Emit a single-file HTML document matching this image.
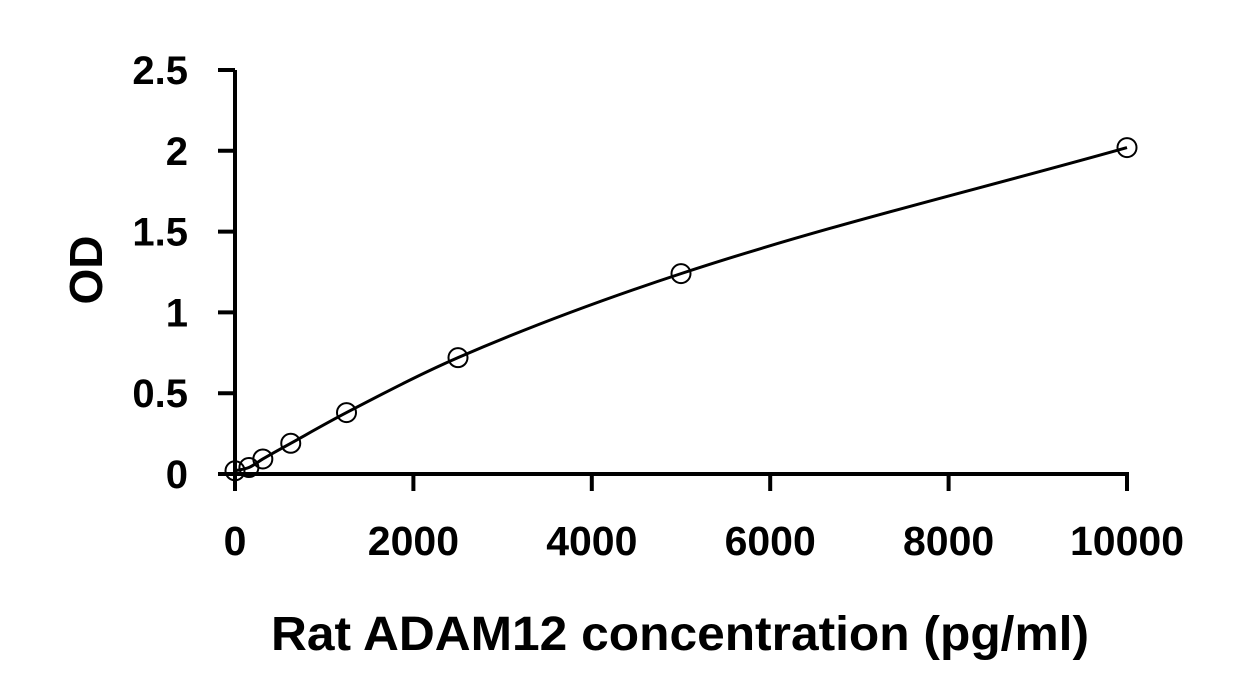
<!DOCTYPE html>
<html><head><meta charset="utf-8"><style>
body{margin:0;background:#fff}
svg{display:block}
text{font-family:"Liberation Sans",sans-serif;font-weight:bold;fill:#000}
</style></head><body>
<svg id="chart" width="1245" height="697" viewBox="0 0 1245 697"></svg>
<script>
const concentrations=[0,156,312,625,1250,2500,5000,10000];
const odValues=[0.02,0.04,0.093,0.19,0.38,0.72,1.24,2.02];
const xTicks=[0,2000,4000,6000,8000,10000];
const yTicks=[0,0.5,1,1.5,2,2.5];
const yTickLabels=["0","0.5","1","1.5","2","2.5"];
const NS="http://www.w3.org/2000/svg";
const svg=document.getElementById('chart');
const X0=235,X1=1127,Y0=474,Y1=70;
const xs=v=>X0+(v/10000)*(X1-X0);
const ys=v=>Y0-(v/2.5)*(Y0-Y1);
function mk(tag,attrs){const e=document.createElementNS(NS,tag);for(const k in attrs)e.setAttribute(k,attrs[k]);svg.appendChild(e);return e;}
let e=mk('line',{x1:X0,y1:Y1,x2:X0,y2:Y0+2,stroke:'#000','stroke-width':4});


e=mk('line',{x1:X0-2,y1:Y0,x2:X1+2,y2:Y0,stroke:'#000','stroke-width':4});


yTicks.forEach((t,i)=>{
 const y=ys(t);
 let l=mk('line',{x1:X0-17,y1:y,x2:X0,y2:y,stroke:'#000','stroke-width':4});
 
 
 let tx=mk('text',{x:188,y:y+14,'text-anchor':'end','font-size':40});
 tx.textContent=yTickLabels[i];
 
 
});
xTicks.forEach(t=>{
 const x=xs(t);
 let l=mk('line',{x1:x,y1:Y0,x2:x,y2:Y0+17,stroke:'#000','stroke-width':4});
 
 
 let tx=mk('text',{x:x,y:555,'text-anchor':'middle','font-size':41});
 tx.textContent=String(t);
 
 
});
const n=concentrations.length,px=concentrations.map(xs),py=odValues.map(ys);
const d=[],m=[];
for(let i=0;i<n-1;i++)d.push((py[i+1]-py[i])/(px[i+1]-px[i]));
m[0]=d[0];m[n-1]=d[n-2];
for(let i=1;i<n-1;i++)m[i]=d[i-1]*d[i]<=0?0:(d[i-1]+d[i])/2;
let path=`M${px[0]},${py[0]}`;
for(let i=0;i<n-1;i++){const h=(px[i+1]-px[i])/3;path+=` C${px[i]+h},${py[i]+m[i]*h} ${px[i+1]-h},${py[i+1]-m[i+1]*h} ${px[i+1]},${py[i+1]}`;}
e=mk('path',{d:path,fill:'none',stroke:'#000','stroke-width':3});


concentrations.forEach((c,i)=>{
 let p=mk('circle',{cx:xs(c),cy:ys(odValues[i]),r:9.5,fill:'none',stroke:'#000','stroke-width':2});
 
 
});
e=mk('text',{x:680,y:650,'text-anchor':'middle','font-size':48,textLength:818,lengthAdjust:'spacingAndGlyphs'});
e.textContent='Rat ADAM12 concentration (pg/ml)';


e=mk('text',{x:0,y:0,'text-anchor':'middle','font-size':46,transform:'translate(102,270) rotate(-90)'});
e.textContent='OD';


</script>
</body></html>
